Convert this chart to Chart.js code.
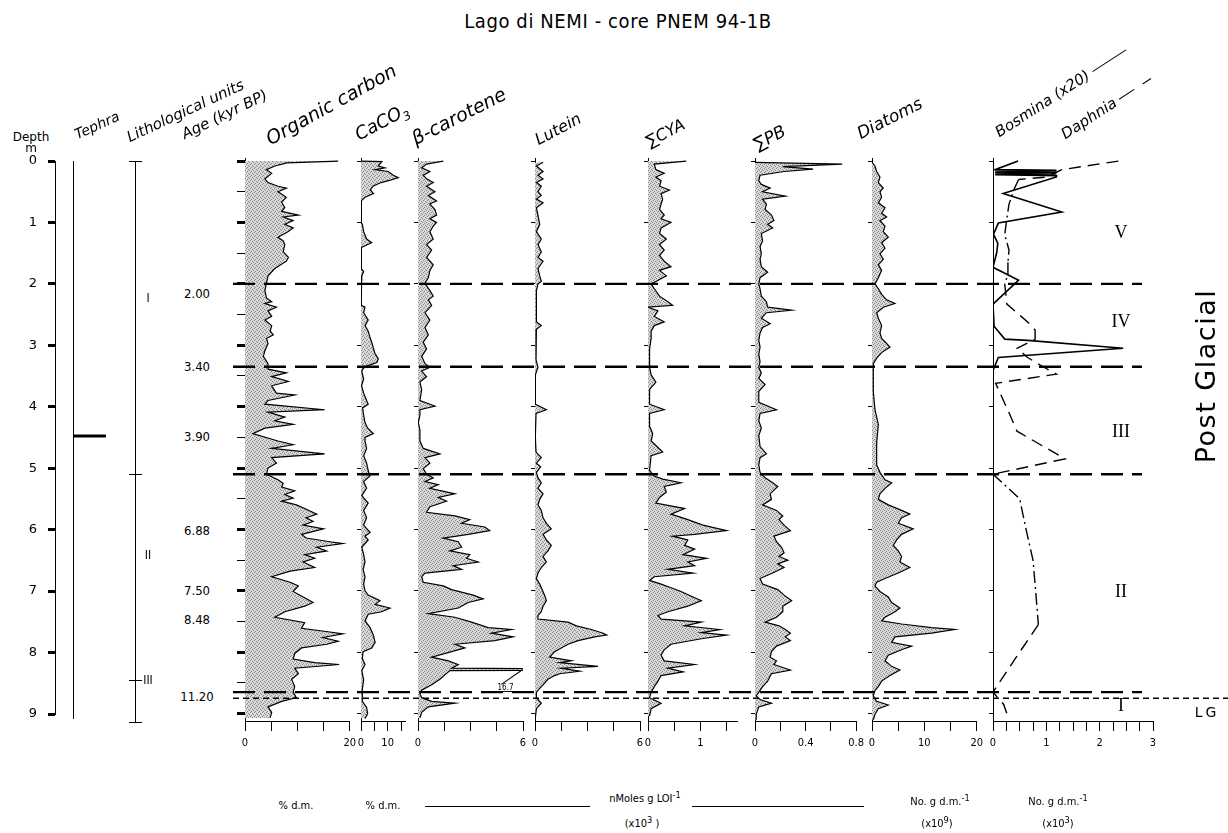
<!DOCTYPE html>
<html>
<head>
<meta charset="utf-8">
<script src="https://cdn.jsdelivr.net/npm/chart.js@4.4.1/dist/chart.umd.min.js"></script>
<style>
  body { margin: 0; background: #fff; }
  #fig { position: relative; width: 1228px; height: 833px; overflow: hidden; font-family: 'DejaVu Sans', sans-serif; color: #000; }
  #fig canvas { position: absolute; }
  .t { position: absolute; white-space: nowrap; line-height: 1; }
  .hd { position: absolute; white-space: nowrap; line-height: 1; transform-origin: 0 100%; font-style: italic; font-family: 'DejaVu Sans', sans-serif; }
  .n { font-family: 'Liberation Sans Narrow', 'DejaVu Sans Condensed', sans-serif; font-size: 11px; }
  .rule { position: absolute; height: 0; border-top: 1px solid #000; }
</style>
</head>
<body>
<div id="fig"></div>
<script>
// depth (m), value
const orgCarbon = [[0.0,17.8],[0.03,8],[0.08,5.7],[0.14,4.1],[0.2,5.1],[0.29,3.8],[0.35,4.4],[0.41,6.3],[0.44,7.9],[0.5,6.3],[0.59,7.9],[0.67,7.0],[0.76,7.6],[0.82,7.0],[0.88,10.2],[0.91,7.3],[0.97,9.2],[1.03,7.6],[1.09,9.2],[1.15,8.2],[1.24,6.3],[1.3,7.3],[1.36,7.6],[1.48,7.3],[1.57,8.3],[1.63,7.9],[1.75,5.7],[1.87,4.4],[1.99,4.1],[2.11,3.8],[2.23,4.1],[2.29,5.1],[2.32,3.8],[2.38,6.0],[2.44,4.4],[2.53,5.1],[2.59,3.8],[2.68,5.1],[2.77,4.8],[2.83,5.4],[2.89,4.1],[2.97,4.4],[3.09,3.8],[3.18,3.5],[3.3,4.4],[3.39,4.4],[3.45,7.9],[3.51,5.1],[3.59,8.3],[3.66,5.1],[3.78,6.0],[3.81,9.5],[3.9,4.4],[3.96,3.8],[4.05,15.2],[4.09,4.4],[4.17,7.6],[4.23,5.7],[4.29,9.2],[4.35,3.8],[4.44,1.5],[4.56,6.3],[4.62,9.2],[4.68,5.1],[4.77,15.2],[4.83,5.1],[4.92,6.0],[5.0,4.4],[5.1,4.1],[5.19,6.3],[5.25,7.3],[5.31,7.0],[5.37,9.5],[5.43,7.6],[5.49,9.2],[5.54,7.0],[5.6,9.8],[5.66,11.4],[5.75,13.7],[5.81,11.7],[5.87,13.0],[5.93,11.1],[5.99,15.0],[6.08,10.8],[6.14,11.7],[6.2,16.2],[6.23,18.7],[6.29,13.7],[6.35,15.6],[6.41,11.4],[6.47,13.3],[6.53,11.1],[6.62,13.3],[6.68,8.6],[6.77,5.1],[6.86,8.6],[6.92,10.2],[7.01,9.2],[7.1,11.1],[7.19,13.0],[7.25,11.4],[7.34,7.6],[7.43,5.7],[7.52,11.4],[7.61,10.8],[7.67,16.2],[7.7,18.7],[7.76,14.9],[7.82,17.8],[7.87,15.6],[7.93,10.8],[8.02,9.5],[8.11,9.2],[8.17,13.3],[8.2,18.0],[8.26,9.5],[8.35,10.2],[8.44,8.9],[8.56,9.5],[8.65,9.2],[8.74,9.8],[8.8,7.0],[8.89,4.4],[8.98,5.1],[9.07,4.8]]

const caco3 = [[0.0,0],[0.01,7.8],[0.08,6.5],[0.11,9.0],[0.14,5.3],[0.17,10.2],[0.23,12.1],[0.27,14.0],[0.31,11.0],[0.35,7.5],[0.41,4.5],[0.47,3.5],[0.53,4.7],[0.59,1.5],[0.65,0],[1.0,0],[1.03,0.5],[1.15,1.0],[1.27,2.1],[1.33,4.0],[1.38,1.5],[1.41,0],[1.75,0],[1.8,1.0],[1.87,0.3],[1.92,0],[2.35,0],[2.38,1.5],[2.47,1.0],[2.59,2.7],[2.68,1.5],[2.77,2.7],[2.86,3.3],[2.95,4.0],[3.04,4.6],[3.13,5.2],[3.22,6.5],[3.28,5.9],[3.34,2.1],[3.37,1.0],[3.42,0.3],[3.55,1.0],[3.66,0.2],[3.78,1.0],[3.9,2.1],[3.96,2.7],[4.02,0.6],[4.14,1.0],[4.26,1.5],[4.35,2.5],[4.44,4.6],[4.5,1.5],[4.56,1.5],[4.68,2.1],[4.8,1.0],[4.92,2.1],[5.04,2.7],[5.13,3.3],[5.22,1.0],[5.33,2.1],[5.45,0.3],[5.57,2.7],[5.69,1.0],[5.81,2.1],[5.93,1.0],[6.05,3.4],[6.11,1.5],[6.17,2.7],[6.29,0.3],[6.41,1.0],[6.53,1.5],[6.65,0.8],[6.77,1.5],[6.89,1.0],[7.0,1.5],[7.07,2.7],[7.16,7.1],[7.22,5.3],[7.28,10.9],[7.34,7.7],[7.38,2.7],[7.49,1.5],[7.6,3.4],[7.72,4.6],[7.84,5.3],[7.93,4.0],[7.99,0.8],[8.1,0.5],[8.2,1.5],[8.3,0.3],[8.45,1.0],[8.6,0.5],[8.8,0.5],[8.9,2.1],[9.0,2.5],[9.08,1.5]]

const betaCarotene = [[0.0,1.44],[0.05,0.49],[0.11,0.21],[0.17,0.68],[0.23,0.3],[0.29,0.49],[0.35,0.87],[0.41,0.49],[0.5,0.97],[0.56,0.59],[0.65,1.06],[0.7,0.68],[0.79,0.97],[0.88,1.06],[0.94,0.68],[1.0,1.06],[1.06,0.87],[1.15,0.68],[1.27,0.87],[1.36,0.49],[1.45,0.78],[1.57,0.49],[1.69,0.87],[1.78,0.68],[1.9,0.59],[1.99,0.4],[2.11,0.68],[2.2,0.87],[2.26,0.59],[2.35,0.78],[2.47,0.4],[2.59,0.68],[2.71,0.4],[2.83,0.59],[2.95,0.3],[3.06,0.49],[3.18,0.21],[3.3,0.4],[3.36,0.68],[3.42,0.21],[3.51,0.49],[3.6,0.11],[3.72,0.21],[3.9,0.11],[3.99,0.97],[4.05,0.11],[4.14,0.11],[4.26,0.02],[4.38,0.11],[4.56,0.11],[4.68,0.3],[4.77,1.25],[4.83,0.4],[4.92,0.68],[5.01,0.3],[5.1,0.49],[5.16,0.87],[5.22,0.4],[5.27,1.16],[5.33,0.68],[5.42,2.11],[5.48,1.16],[5.54,1.63],[5.63,0.68],[5.72,0.49],[5.78,2.11],[5.84,2.96],[5.9,2.49],[5.96,3.82],[6.02,4.1],[6.08,2.87],[6.14,1.44],[6.2,2.3],[6.29,2.49],[6.35,1.82],[6.41,2.96],[6.47,2.77],[6.53,3.44],[6.59,2.01],[6.65,2.49],[6.71,0.4],[6.77,0.21],[6.86,0.3],[6.92,1.44],[6.98,1.92],[7.07,3.15],[7.13,3.72],[7.19,2.87],[7.28,2.3],[7.37,0.59],[7.43,2.11],[7.51,3.06],[7.6,4.01],[7.63,5.34],[7.69,4.2],[7.75,5.43],[7.81,4.39],[7.87,2.11],[7.93,2.68],[7.99,1.92],[8.08,0.78],[8.14,1.73],[8.2,2.3],[8.26,1.92],[8.28,16.7],[8.3,1.82],[8.44,1.25],[8.53,0.78],[8.62,0.21],[8.68,0.11],[8.74,0.21],[8.8,0.78],[8.83,2.11],[8.89,0.59],[8.98,0.21],[9.07,0.11]]

const lutein = [[0.02,0.46],[0.08,0.08],[0.17,0.46],[0.23,0.17],[0.29,0.46],[0.35,0.08],[0.41,0.36],[0.5,0.17],[0.56,0.36],[0.62,0.08],[0.68,0.46],[0.76,0.08],[0.88,0.17],[1.03,0.27],[1.15,0.08],[1.27,0.36],[1.36,0.17],[1.48,0.36],[1.57,0.17],[1.63,0.46],[1.75,0.17],[1.87,0.27],[1.96,0.36],[2.0,0.17],[2.11,0.08],[2.35,0.06],[2.62,0.1],[2.68,0.36],[2.74,0.08],[3.0,0.06],[3.24,0.06],[3.36,0.17],[3.48,0.02],[3.96,0.02],[4.05,0.65],[4.11,0.06],[4.5,0.02],[4.74,0.06],[4.83,0.36],[4.92,0.08],[4.98,0.32],[5.07,0.08],[5.16,0.17],[5.24,0.36],[5.33,0.17],[5.42,0.46],[5.51,0.27],[5.6,0.17],[5.69,0.36],[5.81,0.46],[5.9,0.65],[5.99,0.93],[6.08,0.46],[6.17,0.65],[6.26,0.93],[6.35,0.74],[6.44,0.46],[6.53,0.65],[6.62,0.36],[6.71,0.17],[6.8,0.08],[6.89,0.27],[6.95,0.36],[7.07,0.55],[7.16,0.65],[7.25,0.46],[7.34,0.36],[7.4,0.17],[7.46,0.17],[7.51,1.89],[7.57,2.36],[7.63,3.22],[7.69,3.9],[7.72,4.1],[7.75,3.41],[7.81,2.46],[7.87,1.89],[7.93,1.5],[7.99,1.12],[8.08,0.84],[8.14,2.08],[8.17,1.41],[8.23,3.6],[8.26,1.5],[8.31,2.55],[8.35,1.41],[8.38,1.12],[8.44,0.74],[8.53,0.46],[8.59,0.27],[8.65,0.08],[8.74,0.08],[8.83,0.36],[8.92,0.08],[9.07,0.02]]

const sumCYA = [[0.0,0.73],[0.05,0.12],[0.14,0.15],[0.2,0.31],[0.26,0.15],[0.32,0.25],[0.41,0.22],[0.47,0.41],[0.53,0.25],[0.62,0.28],[0.7,0.25],[0.79,0.22],[0.88,0.31],[0.94,0.25],[1.0,0.44],[1.09,0.25],[1.18,0.22],[1.27,0.35],[1.36,0.22],[1.45,0.31],[1.54,0.22],[1.63,0.31],[1.72,0.44],[1.78,0.22],[1.87,0.35],[1.96,0.15],[2.0,0.06],[2.08,0.12],[2.2,0.22],[2.29,0.38],[2.35,0.47],[2.38,0.0],[2.44,0.19],[2.53,0.12],[2.62,0.31],[2.68,0.12],[2.77,0.06],[2.89,0.06],[3.06,0.03],[3.36,0.03],[3.48,0.06],[3.6,0.15],[3.72,0.03],[3.96,0.03],[4.05,0.31],[4.11,0.03],[4.32,0.03],[4.44,0.09],[4.56,0.06],[4.74,0.28],[4.8,0.06],[5.04,0.03],[5.13,0.12],[5.18,0.28],[5.24,0.63],[5.3,0.31],[5.39,0.35],[5.48,0.22],[5.57,0.15],[5.66,0.7],[5.75,0.44],[5.84,0.76],[5.93,1.05],[6.02,1.5],[6.08,0.89],[6.11,0.47],[6.17,0.76],[6.26,0.7],[6.32,0.89],[6.41,0.67],[6.47,1.12],[6.53,0.76],[6.59,0.89],[6.65,0.38],[6.71,0.86],[6.77,0.12],[6.83,0.03],[6.89,0.25],[6.95,0.44],[7.01,0.63],[7.1,0.86],[7.16,1.02],[7.25,0.76],[7.34,0.38],[7.4,0.19],[7.46,0.25],[7.51,1.02],[7.57,0.7],[7.63,1.37],[7.68,1.02],[7.72,1.5],[7.78,1.02],[7.87,0.44],[7.96,0.31],[8.05,0.25],[8.14,0.31],[8.2,0.89],[8.26,0.38],[8.32,0.67],[8.38,0.25],[8.47,0.19],[8.56,0.12],[8.65,0.06],[8.74,0.03],[8.83,0.25],[8.92,0.06],[9.04,0.03]]

const sumPB = [[0.02,0],[0.05,0.69],[0.09,0.22],[0.13,0.46],[0.17,0.23],[0.23,0.04],[0.32,0.03],[0.38,0.05],[0.44,0.12],[0.5,0.06],[0.57,0.24],[0.62,0.06],[0.7,0.09],[0.79,0.08],[0.88,0.13],[0.97,0.15],[1.03,0.1],[1.09,0.14],[1.18,0.05],[1.3,0.06],[1.39,0.04],[1.51,0.05],[1.6,0.04],[1.72,0.05],[1.81,0.1],[1.9,0.04],[2.0,0.03],[2.08,0.04],[2.2,0.05],[2.29,0.09],[2.38,0.1],[2.43,0.29],[2.47,0.09],[2.56,0.05],[2.65,0.12],[2.71,0.06],[2.8,0.04],[2.92,0.03],[3.03,0.04],[3.15,0.03],[3.27,0.04],[3.36,0.03],[3.45,0.05],[3.54,0.03],[3.64,0.08],[3.75,0.03],[3.93,0.03],[4.05,0.17],[4.11,0.04],[4.23,0.03],[4.35,0.05],[4.47,0.03],[4.65,0.04],[4.77,0.09],[4.83,0.04],[4.95,0.03],[5.07,0.04],[5.16,0.08],[5.24,0.14],[5.3,0.18],[5.36,0.15],[5.42,0.12],[5.51,0.13],[5.6,0.06],[5.69,0.17],[5.78,0.22],[5.84,0.19],[5.93,0.23],[6.02,0.28],[6.11,0.15],[6.2,0.17],[6.29,0.21],[6.38,0.23],[6.44,0.19],[6.5,0.26],[6.56,0.18],[6.62,0.23],[6.71,0.14],[6.8,0.04],[6.89,0.06],[6.98,0.18],[7.07,0.23],[7.16,0.29],[7.25,0.22],[7.34,0.22],[7.43,0.17],[7.51,0.08],[7.57,0.19],[7.63,0.24],[7.69,0.28],[7.75,0.24],[7.81,0.28],[7.9,0.17],[7.99,0.13],[8.08,0.12],[8.14,0.17],[8.2,0.15],[8.29,0.28],[8.35,0.13],[8.47,0.1],[8.56,0.06],[8.62,0.04],[8.71,0.01],[8.77,0.04],[8.83,0.13],[8.89,0.03],[9.01,0.01],[9.1,0.01]]

const diatoms = [[0.02,0],[0.08,0.57],[0.17,0.89],[0.26,1.52],[0.35,1.21],[0.44,2.16],[0.5,1.52],[0.59,1.84],[0.68,1.21],[0.76,2.48],[0.85,1.84],[0.91,2.79],[0.97,1.52],[1.06,2.48],[1.15,2.16],[1.24,3.11],[1.33,1.84],[1.42,2.48],[1.51,1.52],[1.6,2.16],[1.69,1.21],[1.78,1.84],[1.9,1.21],[2.0,0.57],[2.08,1.21],[2.17,1.84],[2.26,2.79],[2.32,4.38],[2.38,2.16],[2.47,0.89],[2.56,1.21],[2.68,1.84],[2.8,1.52],[2.89,1.84],[2.97,2.79],[3.03,3.43],[3.12,1.84],[3.21,0.89],[3.3,0.25],[3.36,0.25],[3.45,0.25],[3.75,0.25],[4.05,0.57],[4.29,1.21],[4.59,0.89],[4.95,0.89],[5.07,1.52],[5.19,2.48],[5.24,3.75],[5.33,2.48],[5.42,1.52],[5.51,1.21],[5.6,3.11],[5.69,5.65],[5.75,7.24],[5.81,5.65],[5.9,5.02],[5.99,7.87],[6.08,5.65],[6.17,4.7],[6.26,4.06],[6.35,5.02],[6.44,5.65],[6.53,5.33],[6.62,7.24],[6.71,5.02],[6.8,2.48],[6.86,0.89],[6.92,0.57],[7.01,1.52],[7.1,3.11],[7.19,3.75],[7.28,5.33],[7.34,4.38],[7.43,2.48],[7.49,1.84],[7.54,5.65],[7.6,11.37],[7.63,15.81],[7.69,11.37],[7.75,4.38],[7.84,3.75],[7.9,7.56],[7.96,5.65],[8.05,3.11],[8.14,2.48],[8.23,3.75],[8.29,5.33],[8.38,3.43],[8.47,1.84],[8.56,1.21],[8.62,0.57],[8.71,0.25],[8.8,0.89],[8.86,3.11],[8.92,1.21],[9.01,0.57],[9.1,0.25]]

const bosmina = [[0.0,0.47],[0.14,0.04],[0.15,1.19],[0.16,0.04],[0.18,1.19],[0.19,0.04],[0.21,1.19],[0.22,0.04],[0.24,1.19],[0.26,1.19],[0.53,0.19],[0.83,1.29],[1.01,0.1],[1.19,0.01],[1.34,0.09],[1.49,0.07],[1.73,0.0],[1.94,0.48],[2.33,0.0],[2.69,0.02],[2.9,0.22],[2.92,0.65],[3.05,2.44],[3.2,0.1],[3.41,0.0],[9.1,0.0]]

const daphnia = [[0.0,2.35],[0.14,1.29],[0.26,1.0],[0.3,0.48],[0.45,0.4],[0.7,0.3],[1.0,0.25],[1.2,0.22],[1.45,0.3],[1.65,0.28],[1.85,0.28],[2.0,0.22],[2.33,0.26],[2.63,0.66],[2.75,0.79],[2.9,0.79],[3.05,0.45],[3.2,0.65],[3.35,0.94],[3.47,1.19],[3.62,0.05],[4.1,0.3],[4.4,0.45],[4.6,0.85],[4.85,1.35],[5.1,0.0],[5.5,0.5],[6.0,0.62],[6.5,0.75],[7.0,0.8],[7.55,0.85],[8.1,0.42],[8.65,0.0],[8.85,0.2],[9.1,0.3]]

// zones, units, ages
const zoneDepths = [2.0, 3.35, 5.1, 8.65]
const lateGlacialDepth = 8.75
const zoneNames = ['V', 'IV', 'III', 'II', 'I']
const zoneNameDepths = [1.16, 2.6, 4.4, 7.0, 8.86]
const tephraDepths = [4.48]
const unitBounds = [0, 5.12, 8.47, 9.15]
const unitNames = ['I', 'II', 'III']
const unitNameDepths = [2.24, 6.43, 8.47]
const ageDepths = [2.16, 3.35, 4.48, 6.02, 7.0, 7.47, 8.72]
const ageLabels = ['2.00', '3.40', '3.90', '6.88', '7.50', '8.48', '11.20']

// tick values
const depthTicks = [0, 1, 2, 3, 4, 5, 6, 7, 8, 9]
const halfDepthTicks = [0, 0.5, 1, 1.5, 2, 2.5, 3, 3.5, 4, 4.5, 5, 5.5, 6, 6.5, 7, 7.5, 8, 8.5, 9]
const ocTicks = [0, 5, 10, 15, 20], ocLabels = [0, 20]
const caTicks = [0, 5, 10, 15], caLabels = [0, 10]
const bcTicks = [0, 1.5, 3, 4.5, 6], bcLabels = [0, 6]
const luTicks = [0, 1.5, 3, 4.5, 6], luLabels = [0, 6]
const cyaTicks = [0, 0.5, 1, 1.5], cyaLabels = [0, 1]
const pbTicks = [0, 0.2, 0.4, 0.6, 0.8], pbLabels = [0, 0.4, 0.8]
const diaTicks = [0, 5, 10, 15, 20], diaLabels = [0, 10, 20]
const bosTicks = [0, 0.25, 0.5, 0.75, 1, 1.25, 1.5, 1.75, 2, 2.25, 2.5, 2.75, 3], bosLabels = [0, 1, 2, 3]

// layout
const TOP = 150, H = 610, PT = 8, XH = 39
const DMIN = -0.05, DMAX = 9.12
const NARROW = "'Liberation Sans Narrow', 'DejaVu Sans Condensed', sans-serif"
const dashDotSpans = [[0.29, 2.0], [5.1, 7.55]]

const fig = document.getElementById('fig')

function addCanvas(left, top, w, h) {
  const c = document.createElement('canvas')
  c.width = w
  c.height = h
  c.style.left = left + 'px'
  c.style.top = top + 'px'
  c.style.width = w + 'px'
  c.style.height = h + 'px'
  fig.appendChild(c)
  return c
}

function addText(html, x, y, cls, style) {
  const d = document.createElement('div')
  d.className = 't ' + (cls || '')
  d.innerHTML = html
  d.style.left = x + 'px'
  d.style.top = y + 'px'
  d.style.transform = 'translate(-50%,-50%)'
  if (style) Object.assign(d.style, style)
  fig.appendChild(d)
  return d
}

function addHeader(html, x, y, size, angle) {
  const d = document.createElement('div')
  d.className = 'hd'
  d.innerHTML = html
  d.style.left = x + 'px'
  d.style.bottom = (833 - y) + 'px'
  d.style.fontSize = size + 'px'
  d.style.transform = 'rotate(' + (-angle) + 'deg)'
  fig.appendChild(d)
}

function stipple() {
  const c = document.createElement('canvas')
  c.width = 4
  c.height = 4
  const g = c.getContext('2d')
  g.fillStyle = '#d8d8d8'
  g.fillRect(0, 0, 4, 4)
  g.fillStyle = '#8a8a8a'
  g.fillRect(0, 0, 1, 1)
  g.fillRect(2, 1, 1, 1)
  g.fillRect(1, 2, 1, 1)
  g.fillRect(3, 3, 1, 1)
  return g.createPattern(c, 'repeat')
}
const FILL = stipple()

const toXY = rows => rows.map(r => ({ x: r[1], y: r[0] }))

const area = rows => ({
  data: toXY(rows),
  borderColor: '#000',
  borderWidth: 1.2,
  backgroundColor: FILL,
  fill: 'origin',
})

const baseOpts = {
  responsive: false,
  animation: false,
  devicePixelRatio: 1,
  events: [],
  plugins: { legend: { display: false }, tooltip: { enabled: false } },
  elements: { point: { radius: 0 }, line: { tension: 0 } },
}

function makePanel(x0, x1, max, ticks, labels, datasets, major) {
  const cv = addCanvas(x0 - 12, TOP, (x1 - x0) + 24, H)
  const chart = new Chart(cv, {
    type: 'line',
    data: { datasets },
    options: Object.assign({}, baseOpts, {
      indexAxis: 'y',
      layout: { padding: { top: PT, right: 12, left: 0, bottom: 0 } },
      scales: {
        x: {
          type: 'linear', position: 'bottom', min: 0, max: max,
          afterBuildTicks: s => { s.ticks = ticks.map(v => ({ value: v })) },
          ticks: {
            autoSkip: false, maxRotation: 0, minRotation: 0, padding: 6, color: '#000',
            font: { family: NARROW, size: 11 },
            callback: v => labels.includes(v) ? String(v) : '',
          },
          grid: { drawOnChartArea: false, tickLength: 10, tickColor: '#000', tickWidth: 1 },
          border: { color: '#000', width: 1 },
          afterFit: s => { s.height = XH },
        },
        y: {
          type: 'linear', position: 'left', reverse: true, min: DMIN, max: DMAX,
          afterBuildTicks: s => { s.ticks = (major ? halfDepthTicks : depthTicks).map(v => ({ value: v })) },
          ticks: { display: false },
          grid: {
            drawOnChartArea: false, tickLength: major ? 8 : 4, tickColor: '#000',
            tickWidth: c => (major && c.tick && c.tick.value % 1 === 0) ? 3 : 1,
          },
          border: { color: '#000', width: 1 },
          afterFit: s => { s.width = 12 },
        },
      },
    }),
  })
  chart.$left = x0 - 12
  return chart
}

// depth axis
new Chart(addCanvas(0, TOP, 60, H), {
  type: 'line',
  data: { datasets: [] },
  options: Object.assign({}, baseOpts, {
    layout: { padding: { top: 11, bottom: H - (714 - TOP), left: 0, right: 5 } },
    scales: {
      x: { type: 'linear', display: false, min: 0, max: 1 },
      y: {
        type: 'linear', reverse: true, min: 0, max: 9,
        afterBuildTicks: s => { s.ticks = depthTicks.map(v => ({ value: v })) },
        ticks: { padding: 11, color: '#000', font: { family: 'DejaVu Sans', size: 13 } },
        grid: { drawOnChartArea: false, tickLength: 7, tickColor: '#000', tickWidth: 3 },
        border: { color: '#000', width: 1 },
        afterFit: s => { s.width = 55; s.paddingTop = 0; s.paddingBottom = 0 },
      },
    },
  }),
})

// tephra column
new Chart(addCanvas(60, TOP, 60, H), {
  type: 'line',
  data: {
    datasets: tephraDepths.map(d => ({
      data: [{ x: 0, y: d }, { x: 1, y: d }], borderColor: '#000', borderWidth: 3,
    })),
  },
  options: Object.assign({}, baseOpts, {
    layout: { padding: { top: 11, bottom: H - (718 - TOP), left: 13, right: 14 } },
    scales: {
      x: { type: 'linear', display: false, min: 0, max: 1 },
      y: {
        type: 'linear', reverse: true, min: 0, max: 9.07,
        ticks: { display: false },
        grid: { display: false },
        border: { color: '#000', width: 1 },
        afterFit: s => { s.width = 0 },
      },
    },
  }),
})

// lithological units column
const litho = new Chart(addCanvas(120, TOP, 40, H), {
  type: 'line',
  data: { datasets: [] },
  options: Object.assign({}, baseOpts, {
    layout: { padding: { top: 11, bottom: H - (722 - TOP), left: 15, right: 18 } },
    scales: {
      x: { type: 'linear', display: false, min: 0, max: 1 },
      y: {
        type: 'linear', reverse: true, min: 0, max: 9.15,
        afterBuildTicks: s => { s.ticks = unitBounds.map(v => ({ value: v })) },
        ticks: { display: false },
        grid: { drawOnChartArea: true, tickLength: 6, color: '#000', tickColor: '#000', lineWidth: 1 },
        border: { color: '#000', width: 1 },
        afterFit: s => { s.width = 0 },
      },
    },
  }),
})
const lithoY = d => TOP + litho.scales.y.getPixelForValue(d)
unitNames.forEach((u, i) => addText(u, 148, lithoY(unitNameDepths[i]), 'n', { fontSize: '12px' }))
ageLabels.forEach((a, i) => addText(a, 197, lithoY(ageDepths[i]), 'n', { fontSize: '13px' }))

// profile panels
makePanel(245, 350, 20, ocTicks, ocLabels, [area(orgCarbon)], true)
makePanel(361, 405, 16.5, caTicks, caLabels, [area(caco3)])
const beta = makePanel(418, 523, 6, bcTicks, bcLabels, [area(betaCarotene)])
makePanel(535, 640, 6, luTicks, luLabels, [area(lutein)])
makePanel(648, 737, 1.7, cyaTicks, cyaLabels, [area(sumCYA)])
makePanel(755, 858, 0.8, pbTicks, pbLabels, [area(sumPB)])
makePanel(872, 977, 20, diaTicks, diaLabels, [area(diatoms)])
const bos = makePanel(993, 1153, 3, bosTicks, bosLabels, [
  { data: toXY(bosmina), borderColor: '#000', borderWidth: 1.6, fill: false },
  {
    data: toXY(daphnia), borderColor: '#000', borderWidth: 1.4, fill: false,
    segment: {
      borderDash: c => dashDotSpans.some(s => c.p0.parsed.y >= s[0] - 1e-6 && c.p1.parsed.y <= s[1] + 1e-6) ? [12, 4, 2, 4] : [12, 7],
    },
  },
])

// off-scale value note (beta-carotene 16.7)
const spike = betaCarotene.reduce((m, r) => r[1] > m[1] ? r : m)
const bx = v => beta.$left + beta.scales.x.getPixelForValue(v)
const by = d => TOP + beta.scales.y.getPixelForValue(d)
const lead = document.createElement('div')
const lx0 = bx(6) - 2, ly0 = by(spike[0]) + 1, lx1 = bx(4.75), ly1 = by(8.52)
const len = Math.hypot(lx0 - lx1, ly1 - ly0)
Object.assign(lead.style, {
  position: 'absolute', left: lx1 + 'px', top: ly1 + 'px', width: len + 'px', height: '0',
  borderTop: '1px solid #000', transformOrigin: '0 0',
  transform: 'rotate(' + (Math.atan2(ly0 - ly1, lx0 - lx1) * 180 / Math.PI) + 'deg)',
})
fig.appendChild(lead)
addText(String(spike[1]), bx(5.0), by(8.58), 'n', { fontSize: '8px', textDecoration: 'underline' })

// zone labels
zoneNames.forEach((z, i) => addText(z, bos.$left + bos.scales.x.getPixelForValue(2.4), TOP + bos.scales.y.getPixelForValue(zoneNameDepths[i]), '',
  { fontFamily: "'Liberation Serif', 'DejaVu Serif', serif", fontSize: '18px' }))

// zone boundaries on top
new Chart(addCanvas(233, TOP, 995, H), {
  type: 'line',
  data: {
    datasets: zoneDepths.map(d => ({
      data: [{ x: 233, y: d }, { x: 1142, y: d }], borderColor: '#000', borderWidth: 2.4, borderDash: [22, 9],
    })).concat([{
      data: [{ x: 233, y: lateGlacialDepth }, { x: 1228, y: lateGlacialDepth }], borderColor: '#000', borderWidth: 1.4, borderDash: [6, 4],
    }]),
  },
  options: Object.assign({}, baseOpts, {
    layout: { padding: { top: PT, bottom: XH, left: 0, right: 0 } },
    scales: {
      x: { type: 'linear', display: false, min: 233, max: 1228 },
      y: { type: 'linear', display: false, reverse: true, min: DMIN, max: DMAX },
    },
  }),
})

// texts
addText('Lago di NEMI - core PNEM 94-1B', 618, 21, '', { fontFamily: "'DejaVu Sans Condensed', sans-serif", fontSize: '20px', letterSpacing: '0.6px' })
addText('Depth', 31, 137, '', { fontSize: '12px' })
addText('m', 31, 148, '', { fontSize: '12px' })
addHeader('Tephra', 78, 141, 14, 24)
addHeader('Lithological units', 131, 145, 15, 25)
addHeader('Age (kyr BP)', 186, 142, 15, 26)
addHeader('Organic carbon', 272, 148, 19, 29)
addHeader('CaCO<sub style="font-size:12px">3</sub>', 362, 147, 18, 28)
addHeader('&beta;-carotene', 417, 148, 19, 27)
addHeader('Lutein', 540, 148, 16, 28)
addHeader('&sum;CYA', 651, 150, 16, 28)
addHeader('&sum;PB', 759, 153, 17, 28)
addHeader('Diatoms', 862, 142, 17, 27)
addHeader('Bosmina (x20) <span style="display:inline-block;width:40px;border-top:1.5px solid #000;vertical-align:middle"></span>', 1001, 140, 15, 33)
addHeader('Daphnia <span style="display:inline-block;width:18px;border-top:1.5px solid #000;vertical-align:middle"></span>&nbsp;&nbsp;<span style="display:inline-block;width:10px;border-top:1.5px solid #000;vertical-align:middle"></span>', 1067, 142, 15, 33)

addText('Post Glacial', 1205, 376, '', { fontSize: '27px', letterSpacing: '1.5px', transform: 'translate(-50%,-50%) rotate(-90deg)' })
addText('LG', 1207, 712, '', { fontSize: '14px', letterSpacing: '3px' })

addText('% d.m.', 296, 805, 'n')
addText('% d.m.', 383, 805, 'n')
addText('nMoles g LOI<sup>-1</sup>', 645, 797, 'n')
addText('(x10<sup>3</sup> )', 642, 822, 'n')
addText('No. g d.m.<sup>-1</sup>', 940, 800, 'n')
addText('(x10<sup>9</sup>)', 937, 822, 'n')
addText('No. g d.m.<sup>-1</sup>', 1058, 800, 'n')
addText('(x10<sup>3</sup>)', 1058, 822, 'n')
const rules = [[425, 590], [692, 864]]
rules.forEach(r => {
  const d = document.createElement('div')
  d.className = 'rule'
  d.style.left = r[0] + 'px'
  d.style.top = '806px'
  d.style.width = (r[1] - r[0]) + 'px'
  fig.appendChild(d)
})
</script>
</body>
</html>
